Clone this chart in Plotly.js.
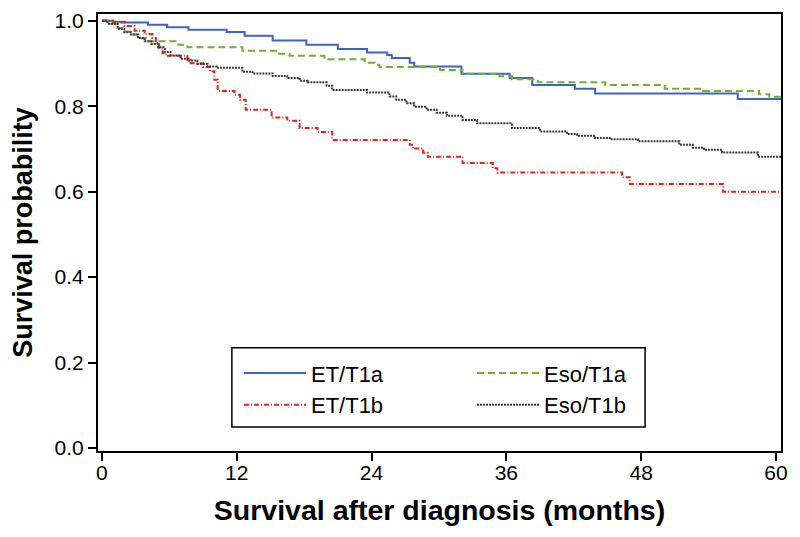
<!DOCTYPE html>
<html>
<head>
<meta charset="utf-8">
<script src="https://cdn.plot.ly/plotly-3.0.1.min.js"></script>
<style>html,body{margin:0;padding:0;background:#fff;}#chart{width:800px;height:537px;}</style>
</head>
<body>
<div id="chart"></div>
<script>
// Kaplan-Meier step curves (months, survival probability)
const etT1aTime = [0, 1.0, 2.05, 4.1, 5.8, 7.7, 11.1, 12.7, 15.2, 18.2, 21.0, 23.6, 25.4, 25.8, 27.4, 27.8, 32.0, 36.3, 38.3, 42.1, 43.9, 56.6, 60.5];
const etT1aSurv = [1.0, 0.998, 0.996, 0.991, 0.985, 0.979, 0.974, 0.965, 0.954, 0.944, 0.934, 0.926, 0.920, 0.913, 0.902, 0.893, 0.876, 0.866, 0.850, 0.841, 0.830, 0.817, 0.817];

const esoT1aTime = [0, 0.5, 1.4, 2.0, 2.8, 3.4, 4.0, 6.8, 7.6, 12.5, 15.6, 16.7, 19.8, 23.4, 24.3, 24.7, 30.1, 32.1, 35.4, 36.5, 38.8, 44.8, 50.1, 53.5, 58.5, 59.4, 60.5];
const esoT1aSurv = [1.0, 0.993, 0.983, 0.975, 0.968, 0.960, 0.952, 0.944, 0.938, 0.930, 0.923, 0.918, 0.910, 0.902, 0.897, 0.892, 0.885, 0.876, 0.870, 0.863, 0.856, 0.850, 0.841, 0.836, 0.828, 0.822, 0.822];

const etT1bTime = [0, 1.0, 2.0, 2.9, 3.8, 4.5, 4.8, 5.1, 5.4, 5.7, 7.6, 7.9, 9.0, 9.6, 10.0, 10.3, 11.8, 12.3, 12.8, 15.1, 16.5, 17.6, 19.2, 20.5, 27.4, 27.7, 28.6, 29.0, 32.1, 34.8, 35.2, 46.3, 47.0, 55.3, 60.5];
const etT1bSurv = [1.0, 0.996, 0.988, 0.977, 0.969, 0.960, 0.948, 0.936, 0.924, 0.918, 0.909, 0.901, 0.892, 0.882, 0.862, 0.836, 0.827, 0.815, 0.792, 0.774, 0.766, 0.749, 0.740, 0.721, 0.710, 0.701, 0.691, 0.682, 0.667, 0.655, 0.645, 0.634, 0.618, 0.600, 0.600];

const esoT1bTime = [0, 0.5, 1.4, 2.0, 2.6, 3.2, 3.8, 4.4, 5.0, 5.6, 6.1, 7.0, 7.7, 8.5, 9.4, 10.2, 12.5, 13.4, 15.2, 16.5, 17.6, 18.3, 20.0, 20.5, 23.6, 25.6, 26.2, 27.1, 27.8, 28.9, 29.8, 30.7, 32.1, 33.4, 36.5, 39.0, 41.4, 42.3, 43.9, 45.2, 47.7, 51.4, 52.6, 53.6, 55.2, 58.4, 60.5];
const esoT1bSurv = [1.0, 0.993, 0.981, 0.973, 0.968, 0.960, 0.952, 0.946, 0.938, 0.927, 0.919, 0.911, 0.907, 0.899, 0.893, 0.890, 0.881, 0.877, 0.871, 0.866, 0.860, 0.856, 0.848, 0.838, 0.832, 0.823, 0.815, 0.807, 0.799, 0.792, 0.785, 0.778, 0.768, 0.760, 0.749, 0.741, 0.735, 0.731, 0.726, 0.723, 0.718, 0.710, 0.703, 0.698, 0.692, 0.682, 0.682];

const seriesNames = ['ET/T1a', 'Eso/T1a', 'ET/T1b', 'Eso/T1b'];
const xTicks = [0, 12, 24, 36, 48, 60];
const yTicks = [0, 0.2, 0.4, 0.6, 0.8, 1.0];

const FONT = 'Liberation Sans, Arial, Helvetica, sans-serif';

const traces = [
  {x: etT1aTime, y: etT1aSurv, name: seriesNames[0], legend: 'legend', line: {color: '#3f63c6', width: 2, dash: 'solid', shape: 'hv'}},
  {x: esoT1aTime, y: esoT1aSurv, name: seriesNames[1], legend: 'legend2', line: {color: '#6cb22f', width: 2, dash: '7px,4px', shape: 'hv'}},
  {x: etT1bTime, y: etT1bSurv, name: seriesNames[2], legend: 'legend', line: {color: '#d8281f', width: 2, dash: '5px,2px,1px,2px', shape: 'hv'}},
  {x: esoT1bTime, y: esoT1bSurv, name: seriesNames[3], legend: 'legend2', line: {color: '#3a3a3a', width: 2, dash: '2px,1px', shape: 'hv'}}
].map(t => Object.assign({type: 'scatter', mode: 'lines', hoverinfo: 'skip'}, t));

const legendCommon = {
  orientation: 'v', yanchor: 'top', xanchor: 'left', y: 0.226,
  itemwidth: 62, borderwidth: 0, bgcolor: 'rgba(0,0,0,0)',
  font: {family: FONT, size: 22, color: '#000'}, traceorder: 'normal'
};

const layout = {
  width: 800, height: 537,
  margin: {l: 98, r: 19, t: 14, b: 86},
  paper_bgcolor: '#fff', plot_bgcolor: '#fff',
  font: {family: FONT, color: '#000', size: 20},
  showlegend: true,
  legend: Object.assign({x: 0.2064}, legendCommon),
  legend2: Object.assign({x: 0.5476}, legendCommon),
  shapes: [{
    type: 'rect', xref: 'paper', yref: 'paper', x0: 0.196, x1: 0.801, y0: 0.055, y1: 0.236,
    line: {color: '#000', width: 1.5}, fillcolor: 'rgba(0,0,0,0)', layer: 'above'
  }],
  xaxis: {
    range: [-0.35, 60.45], tickvals: xTicks, ticktext: xTicks.map(String),
    showline: true, mirror: true, linecolor: '#000', linewidth: 2,
    ticks: 'outside', ticklen: 8, tickwidth: 2, tickcolor: '#000',
    ticklabelstandoff: -6,
    showgrid: false, zeroline: false,
    tickfont: {family: FONT, size: 21, color: '#000'},
    title: {text: 'Survival after diagnosis (months)', font: {family: FONT, size: 28.5, color: '#000', weight: 'bold'}, standoff: 17}
  },
  yaxis: {
    range: [-0.007, 1.016], tickvals: yTicks, ticktext: yTicks.map(v => v.toFixed(1)),
    showline: true, mirror: true, linecolor: '#000', linewidth: 2,
    ticks: 'outside', ticklen: 8, tickwidth: 2, tickcolor: '#000',
    showgrid: false, zeroline: false,
    tickfont: {family: FONT, size: 21, color: '#000'},
    title: {text: '\u00a0\u00a0Survival probability', font: {family: FONT, size: 27, color: '#000', weight: 'bold'}, standoff: 14}
  }
};

Plotly.newPlot('chart', traces, layout, {displayModeBar: false, staticPlot: true});
</script>
</body>
</html>
